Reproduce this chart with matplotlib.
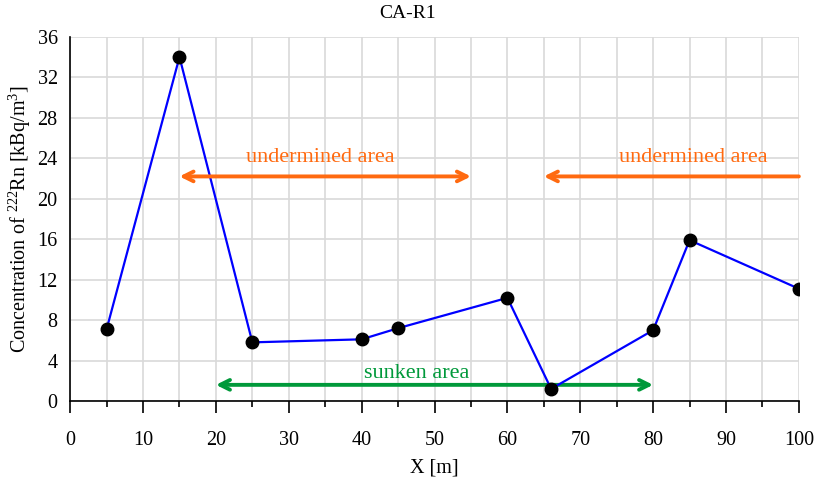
import matplotlib

matplotlib.use("Agg")

import matplotlib.pyplot as plt
from matplotlib.ticker import MultipleLocator

plt.rcParams["font.family"] = ["Liberation Serif", "DejaVu Serif"]
plt.rcParams["mathtext.fontset"] = "custom"
plt.rcParams["mathtext.rm"] = "Liberation Serif"

x_pos = [5, 15, 25, 40, 45, 60, 66, 80, 85, 100]
radon = [7.1, 34.0, 5.8, 6.1, 7.2, 10.2, 1.2, 7.0, 15.9, 11.1]

ORANGE = "#FF6A10"
GREEN = "#00993A"

fig = plt.figure(figsize=(8.16, 4.78), dpi=100)
ax = fig.add_axes([0.086, 0.161, 0.893, 0.762])

ax.plot(x_pos, radon, color="#0000FF", lw=1.6, zorder=3)
ax.plot(x_pos, radon, "o", color="black", ms=9, zorder=4)

ax.set_xlim(0, 100)
ax.set_ylim(0, 36)
ax.xaxis.set_major_locator(MultipleLocator(10))
ax.xaxis.set_minor_locator(MultipleLocator(5))
ax.yaxis.set_major_locator(MultipleLocator(4))
ax.grid(which="both", axis="x", color="#D9D9D9", lw=1.2)
ax.grid(which="major", axis="y", color="#D9D9D9", lw=1.2)
ax.set_axisbelow(True)

for side in ("top", "right"):
    ax.spines[side].set_visible(False)
ax.spines["left"].set_linewidth(1.2)
ax.spines["bottom"].set_linewidth(1.2)
ax.tick_params(axis="x", which="major", length=8.5, width=1.2, direction="out", labelsize=14.5, pad=13)
ax.tick_params(axis="x", which="minor", length=4.3, width=1.2, direction="out")
ax.tick_params(axis="y", length=0, labelsize=14.5, pad=9)

ax.set_xlabel("X [m]", fontsize=14.5, labelpad=6)
ax.set_ylabel("Concentration of $^{222}$Rn [kBq/m$^3$]", fontsize=14.5, labelpad=3)
fig.text(0.5, 1 - 13 / 478, "CA-R1", fontsize=14, ha="center", va="center")

arrow = dict(arrowstyle="<->,head_length=0.7,head_width=0.35", lw=2.8, shrinkA=0, shrinkB=0)
ax.annotate("", xy=(15, 22.2), xytext=(55, 22.2), arrowprops=dict(arrow, color=ORANGE), zorder=5)
ax.annotate("", xy=(65, 22.2), xytext=(100, 22.2),
            arrowprops=dict(arrow, arrowstyle="->,head_length=0.7,head_width=0.35", color=ORANGE), zorder=5)
ax.annotate("", xy=(20, 1.6), xytext=(80, 1.6), arrowprops=dict(arrow, color=GREEN), zorder=2)

ax.text(34.3, 24.1, "undermined area", color=ORANGE, fontsize=16, ha="center", va="center")
ax.text(85.5, 24.1, "undermined area", color=ORANGE, fontsize=16, ha="center", va="center")
ax.text(47.5, 2.7, "sunken area", color=GREEN, fontsize=16, ha="center", va="center")

fig.savefig("out.png", dpi=100)
plt.close(fig)
